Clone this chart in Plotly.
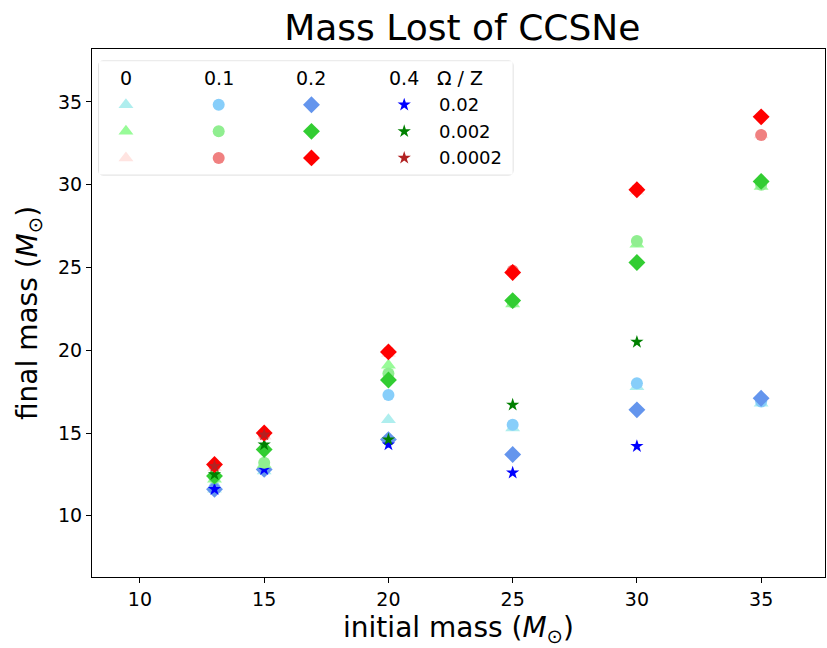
import plotly.graph_objects as go

# Initial masses of the CCSN progenitors (solar masses)
initial_mass = [13, 15, 20, 25, 30, 35]

# Rotation rates (Omega) and metallicities (Z)
omegas = ["0", "0.1", "0.2", "0.4"]
metallicities = ["0.02", "0.002", "0.0002"]

# Final masses, one list per (Z, Omega); None where no model exists
final_z002_w0 = [11.6, 12.7, 15.8, 15.3, 17.8, 16.8]
final_z002_w01 = [11.7, 12.8, 17.3, 15.5, 18.0, 16.9]
final_z002_w02 = [11.6, 12.8, 14.6, 13.7, 16.4, 17.1]
final_z002_w04 = [11.6, 12.8, 14.3, 12.6, 14.2, None]

final_z0002_w0 = [12.2, 13.1, 19.1, 22.8, 26.4, 29.9]
final_z0002_w01 = [12.3, 13.2, 18.6, 22.9, 26.6, 30.0]
final_z0002_w02 = [12.4, 14.0, 18.2, 23.0, 25.3, 30.2]
final_z0002_w04 = [12.5, 14.3, 14.6, 16.7, 20.5, None]

final_z00002_w0 = [12.9, 14.8, 19.8, 24.8, 29.6, 33.0]
final_z00002_w01 = [13.0, 14.9, 19.9, 24.8, 29.7, 33.0]
final_z00002_w02 = [13.1, 15.0, 19.9, 24.7, 29.7, 34.1]
final_z00002_w04 = [13.0, 14.9, None, None, None, None]

final_masses = [
    [final_z002_w0, final_z002_w01, final_z002_w02, final_z002_w04],
    [final_z0002_w0, final_z0002_w01, final_z0002_w02, final_z0002_w04],
    [final_z00002_w0, final_z00002_w01, final_z00002_w02, final_z00002_w04],
]

# Marker symbol per rotation rate, colour per (Z, Omega)
symbols = ["triangle-up", "circle", "diamond", "star"]
sizes = [13, 12, 13, 10]
colors = [
    ["paleturquoise", "lightskyblue", "cornflowerblue", "blue"],
    ["palegreen", "lightgreen", "limegreen", "green"],
    ["mistyrose", "lightcoral", "red", "firebrick"],
]

FONT = "DejaVu Sans"

fig = go.Figure()

for zi, z in enumerate(metallicities):
    for wi, w in enumerate(omegas):
        fig.add_trace(go.Scatter(
            x=initial_mass,
            y=final_masses[zi][wi],
            mode="markers",
            marker=dict(symbol=symbols[wi], size=sizes[wi],
                        color=colors[zi][wi], line=dict(width=0)),
            name=f"Ω={w}, Z={z}",
            showlegend=False,
            xaxis="x", yaxis="y",
        ))

# Table-style key: columns = Omega, rows = Z, drawn on its own hidden axes
for zi, z in enumerate(metallicities):
    for wi, w in enumerate(omegas):
        fig.add_trace(go.Scatter(
            x=[wi], y=[zi + 1],
            mode="markers",
            marker=dict(symbol=symbols[wi], size=sizes[wi],
                        color=colors[zi][wi], line=dict(width=0)),
            showlegend=False, hoverinfo="skip",
            xaxis="x2", yaxis="y2",
        ))

annotations = []
for wi, w in enumerate(omegas):
    annotations.append(dict(x=wi, y=0, xref="x2", yref="y2", text=w,
                            showarrow=False, xanchor="center", yanchor="middle",
                            font=dict(family=FONT, size=19, color="black")))
annotations.append(dict(x=3.6, y=0, xref="x2", yref="y2", text="Ω / Z",
                        showarrow=False, xanchor="center", yanchor="middle",
                        font=dict(family=FONT, size=19, color="black")))
for zi, z in enumerate(metallicities):
    annotations.append(dict(x=3.35, y=zi + 1, xref="x2", yref="y2", text=z,
                            showarrow=False, xanchor="left", yanchor="middle",
                            font=dict(family=FONT, size=18, color="black")))

# Rounded frame around the key (paper coordinates)
x0, x1, y0, y1 = 0.0096, 0.574, 0.762, 0.977
rx, ry = 0.006, 0.008
frame_path = (
    f"M {x0 + rx},{y1} L {x1 - rx},{y1} Q {x1},{y1} {x1},{y1 - ry} "
    f"L {x1},{y0 + ry} Q {x1},{y0} {x1 - rx},{y0} "
    f"L {x0 + rx},{y0} Q {x0},{y0} {x0},{y0 + ry} "
    f"L {x0},{y1 - ry} Q {x0},{y1} {x0 + rx},{y1} Z"
)

fig.update_layout(
    width=827, height=648,
    margin=dict(l=92, r=2, t=49, b=71),
    plot_bgcolor="white", paper_bgcolor="white",
    title=dict(text="Mass Lost of CCSNe", x=0.559, xanchor="center",
               y=0.957, yanchor="middle",
               font=dict(family=FONT, size=36, color="black")),
    xaxis=dict(range=[8.07, 37.57], tickvals=[10, 15, 20, 25, 30, 35],
               showgrid=False, zeroline=False,
               showline=True, linecolor="black", linewidth=1.2, mirror=True,
               ticks="outside", ticklen=5, tickcolor="black", tickwidth=1,
               tickfont=dict(family=FONT, size=19, color="black"),
               title=dict(text="initial mass (<i>M</i><sub>⊙</sub>)",
                          font=dict(family=FONT, size=28, color="black"),
                          standoff=8)),
    yaxis=dict(range=[6.3, 38.2], tickvals=[10, 15, 20, 25, 30, 35],
               showgrid=False, zeroline=False,
               showline=True, linecolor="black", linewidth=1.2, mirror=True,
               ticks="outside", ticklen=5, tickcolor="black", tickwidth=1,
               tickfont=dict(family=FONT, size=19, color="black"),
               title=dict(text="final mass (<i>M</i><sub>⊙</sub>)",
                          font=dict(family=FONT, size=28, color="black"),
                          standoff=12)),
    xaxis2=dict(domain=[x0, x1], range=[-0.29, 4.17], visible=False,
                anchor="y2", fixedrange=True),
    yaxis2=dict(domain=[y0, y1], range=[3.63, -0.64], visible=False,
                anchor="x2", fixedrange=True),
    shapes=[dict(type="path", xref="paper", yref="paper", path=frame_path,
                 line=dict(color="#d9d9d9", width=1.5),
                 fillcolor="rgba(255,255,255,0.8)", layer="below")],
    annotations=annotations,
)

fig.write_html("out.html")
